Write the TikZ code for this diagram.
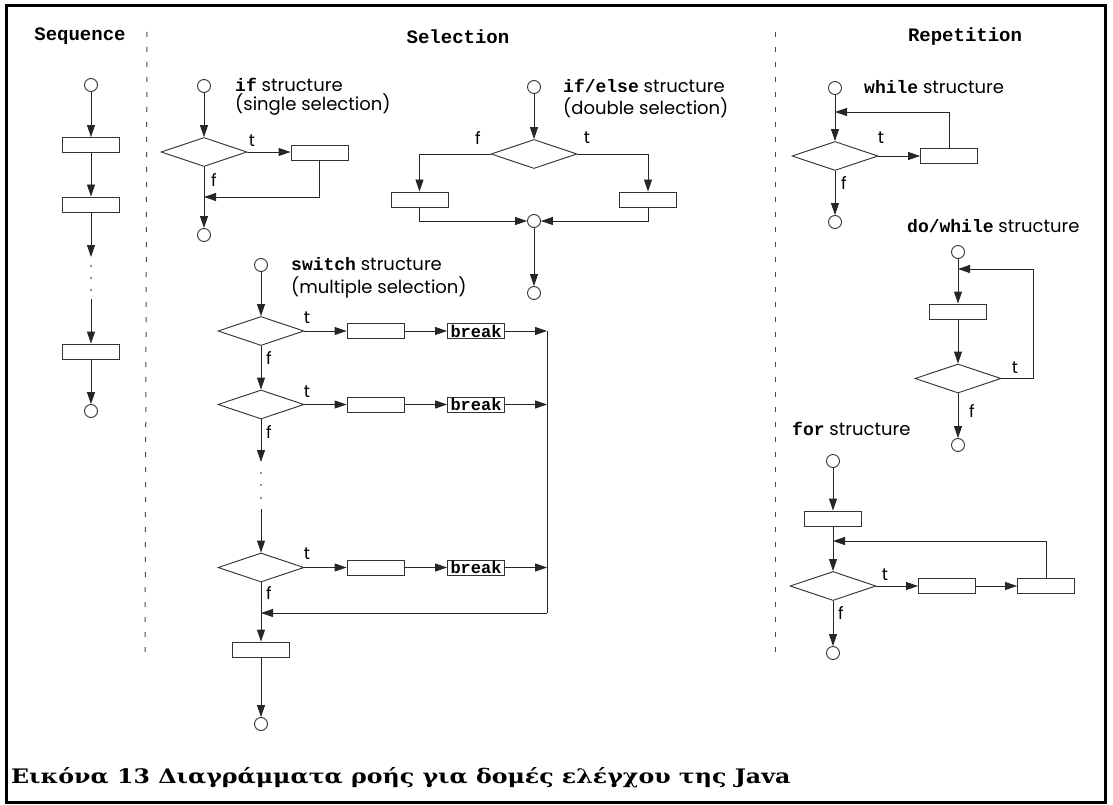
\documentclass[tikz,border=0pt]{standalone}
\usepackage{fontspec}
\usepackage{graphicx}
\setmainfont{Poppins}
\newfontfamily\kwfont{Liberation Mono}
\newfontfamily\capfont{DejaVu Serif}
\usetikzlibrary{shapes.geometric,arrows.meta}
\newcommand{\kw}[1]{{\kwfont\bfseries #1}}
\tikzset{
  ln/.style={line width=0.9pt, draw=black!85},
  arr/.style={ln, -{Triangle[length=12pt,width=8pt]}},
  circ/.style={circle, draw=black!80, line width=0.9pt, minimum size=13pt, inner sep=0pt},
  boxn/.style={rectangle, draw=black!80, line width=0.9pt, minimum width=57pt, minimum height=15pt, inner sep=0pt},
  dia/.style={diamond, draw=black!80, line width=0.9pt, minimum width=86pt, minimum height=29pt, inner sep=0pt},
  brk/.style={boxn, font=\kwfont\bfseries\fontsize{17}{17}\selectfont},
  lab/.style={font=\fontsize{17}{17}\selectfont, inner sep=0pt},
  ttl/.style={font=\kwfont\bfseries\fontsize{19}{19}\selectfont, inner sep=0pt},
  desc/.style={font=\fontsize{18}{18}\selectfont, anchor=base west, inner sep=0pt},
  sep/.style={line width=1pt, draw=black!70, dash pattern=on 5pt off 10pt},
  dotm/.style={fill=black!85},
}
\begin{document}
\begin{tikzpicture}[x=1pt,y=-1pt]
\useasboundingbox (0,0) rectangle (1113,805);
\fill[white] (0,0) rectangle (1113,805);
\draw[line width=3pt] (6.5,5.5) rectangle (1105,802.5);

% separators
\draw[sep] (147,32) -- (145,658);
\draw[sep] (775,32) -- (775,658);

% titles
\node[ttl] (tseq) at (80,36) {Sequence};
\node[ttl] (tsel) at (458,37) {Selection};
\node[ttl] (trep) at (965,37) {Repetition};

% ---------- Sequence ----------
\node[circ] (s0) at (91,85) {};
\node[boxn] (s1) at (91,145) {};
\node[boxn] (s2) at (91,204.5) {};
\coordinate (sA) at (91,257);
\coordinate (sB) at (91,299);
\node[boxn] (s3) at (91,351.5) {};
\node[circ] (s4) at (91,411) {};
\draw[arr] (s0) -- (s1);
\draw[arr] (s1) -- (s2);
\draw[arr] (s2) -- (sA);
\fill[dotm] (91,266) circle (0.9);
\fill[dotm] (91,278) circle (0.9);
\fill[dotm] (91,290) circle (0.9);
\draw[arr] (sB) -- (s3);
\draw[arr] (s3) -- (s4);

% ---------- if ----------
\node[desc] (ift1) at (235,92) {\kw{if} structure};
\node[desc] (ift2) at (235,111) {(single selection)};
\node[circ] (i0) at (204,86) {};
\node[dia] (id) at (204,152) {};
\node[boxn] (ir) at (319.5,152.5) {};
\node[circ] (i1) at (204,235) {};
\coordinate (ij) at (204,197);
\draw[arr] (i0) -- (id);
\draw[arr] (id.east) -- (id.east -| ir.west);
\draw[arr] (ir.south) |- (ij);
\draw[arr] (id.south) -- (i1);
\node[lab] (it) at (252,141) {t};
\node[lab] (if) at (214,180) {f};

% ---------- if/else ----------
\node[desc] (et1) at (563,93) {\kw{if/else} structure};
\node[desc] (et2) at (563,115) {(double selection)};
\node[circ] (e0) at (534,87) {};
\node[dia] (ed) at (534,154) {};
\node[boxn] (el) at (419.5,199.5) {};
\node[boxn] (er) at (648,199.5) {};
\node[circ] (ej) at (534,221) {};
\node[circ] (e1) at (534,293) {};
\draw[arr] (e0) -- (ed);
\draw[arr] (ed.west) -| (el.north);
\draw[arr] (ed.east) -| (er.north);
\draw[arr] (el.south) |- (ej.west);
\draw[arr] (er.south) |- (ej.east);
\draw[arr] (ej) -- (e1);
\node[lab] (ef) at (478,138) {f};
\node[lab] (et) at (587,138) {t};

% ---------- switch ----------
\node[desc] (ct1) at (291,270) {\kw{switch} structure};
\node[desc] (ct2) at (291,293) {(multiple selection)};
\node[circ] (c0) at (261,265) {};
\node[dia] (cd1) at (261,331) {};
\node[boxn] (cr1) at (375.5,331) {};
\node[brk] (cb1) at (476,331) {break};
\node[dia] (cd2) at (261,404.5) {};
\node[boxn] (cr2) at (375.5,404.5) {};
\node[brk] (cb2) at (476,404.5) {break};
\node[dia] (cd3) at (261,567.5) {};
\node[boxn] (cr3) at (375.5,567.5) {};
\node[brk] (cb3) at (476,567.5) {break};
\node[boxn] (cr4) at (261,649.5) {};
\node[circ] (c1) at (261,724) {};
\coordinate (cm1) at (547,331);
\coordinate (cm2) at (547,404.5);
\coordinate (cm3) at (547,567.5);
\coordinate (cmb) at (547,613);
\coordinate (cjn) at (261,613);
\coordinate (cA) at (261,462);
\coordinate (cB) at (261,509);
\draw[arr] (c0) -- (cd1);
\draw[arr] (cd1.east) -- (cr1.west);
\draw[arr] (cr1.east) -- (cb1.west);
\draw[arr] (cb1.east) -- (cm1);
\draw[arr] (cd2.east) -- (cr2.west);
\draw[arr] (cr2.east) -- (cb2.west);
\draw[arr] (cb2.east) -- (cm2);
\draw[arr] (cd3.east) -- (cr3.west);
\draw[arr] (cr3.east) -- (cb3.west);
\draw[arr] (cb3.east) -- (cm3);
\draw[arr] (cd1) -- (cd2);
\draw[arr] (cd2) -- (cA);
\fill[dotm] (261,473) circle (0.9);
\fill[dotm] (261,485) circle (0.9);
\fill[dotm] (261,498) circle (0.9);
\draw[arr] (cB) -- (cd3);
\draw[ln] (cm1) -- (cmb);
\draw[arr] (cmb) -- (cjn);
\draw[arr] (cd3) -- (cr4);
\draw[arr] (cr4) -- (c1);
\node[lab] (ct1l) at (307,318) {t};
\node[lab] (ct2l) at (307,392) {t};
\node[lab] (ct3l) at (307,554) {t};
\node[lab] (cf1l) at (269,358) {f};
\node[lab] (cf2l) at (269,432) {f};
\node[lab] (cf3l) at (269,593) {f};

% ---------- while ----------
\node[desc] (wt) at (864,94) {\kw{while} structure};
\node[circ] (w0) at (835,88) {};
\node[dia] (wd) at (835,156) {};
\node[boxn] (wr) at (949,156) {};
\node[circ] (w1) at (835,222) {};
\coordinate (wj) at (835,112);
\draw[arr] (w0) -- (wd);
\draw[arr] (wd.east) -- (wr.west);
\draw[arr] (wr.north) |- (wj);
\draw[arr] (wd) -- (w1);
\node[lab] (wtl) at (881,138) {t};
\node[lab] (wfl) at (844,183) {f};

% ---------- do/while ----------
\node[desc] (dt) at (907,233) {\kw{do/while} structure};
\node[circ] (d0) at (958,252) {};
\node[boxn] (dr) at (958,311.5) {};
\node[dia] (dd) at (958,378.5) {};
\node[circ] (d1) at (958,445) {};
\coordinate (dj) at (958,269);
\coordinate (dk) at (1033,378.5);
\draw[arr] (d0) -- (dr);
\draw[arr] (dr) -- (dd);
\draw[arr] (dd.east) -- (dk) |- (dj);
\draw[arr] (dd) -- (d1);
\node[lab] (dtl) at (1015,368) {t};
\node[lab] (dfl) at (972,411) {f};

% ---------- for ----------
\node[desc] (ft) at (792,435) {\kw{for} structure};
\node[circ] (f0) at (833,461) {};
\node[boxn] (fr1) at (833,518.5) {};
\node[dia] (fd) at (833,586) {};
\node[boxn] (fr2) at (947,586) {};
\node[boxn] (fr3) at (1046,586) {};
\node[circ] (f1) at (833,653) {};
\coordinate (fj) at (833,541);
\draw[arr] (f0) -- (fr1);
\draw[arr] (fr1) -- (fd);
\draw[arr] (fd.east) -- (fr2.west);
\draw[arr] (fr2) -- (fr3);
\draw[arr] (fr3.north) |- (fj);
\draw[arr] (fd) -- (f1);
\node[lab] (ftl) at (885,575) {t};
\node[lab] (ffl) at (841,613) {f};

% caption
\node[anchor=base west, inner sep=0pt] (cap) at (11,783)
  {\resizebox{779pt}{16pt}{\capfont\bfseries Εικόνα 13 Διαγράμματα ροής για δομές ελέγχου της Java}};
\end{tikzpicture}
\end{document}
